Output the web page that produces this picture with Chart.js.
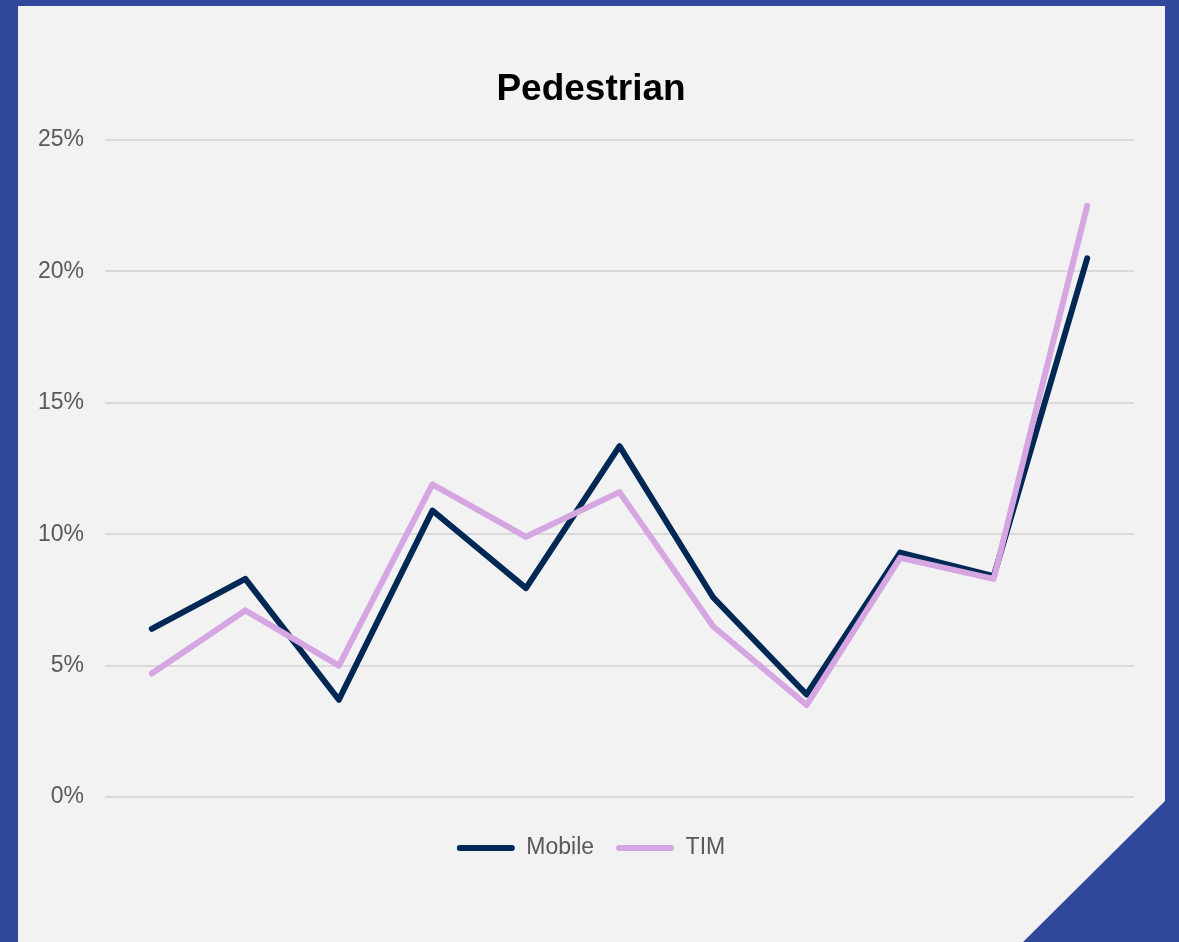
<!DOCTYPE html>
<html>
<head>
<meta charset="utf-8">
<title>Pedestrian</title>
<script src="https://cdn.jsdelivr.net/npm/chart.js@4/dist/chart.umd.min.js"></script>
<style>
    html, body { margin: 0; padding: 0; }
    body { width: 1179px; height: 942px; background: #30479c; position: relative; overflow: hidden; }
    #panel {
        position: absolute; left: 18px; top: 6px; width: 1147px; height: 936px;
        background: #f2f2f2;
        clip-path: polygon(0 0, 100% 0, 100% 795px, 1005px 100%, 0 100%);
    }
    #chart { position: absolute; left: 0; top: 0; }
</style>
</head>
<body>
<div id="panel"></div>
<canvas id="chart" width="1179" height="942"></canvas>
<script>
// Chart data
const categories = ['1', '2', '3', '4', '5', '6', '7', '8', '9', '10', '11'];
const mobileValues = [6.4, 8.3, 3.7, 10.9, 7.95, 13.35, 7.6, 3.9, 9.3, 8.4, 20.5];
const timValues = [4.7, 7.1, 5.0, 11.9, 9.9, 11.6, 6.5, 3.5, 9.1, 8.3, 22.5];
const yTicks = [0, 5, 10, 15, 20, 25];

Chart.defaults.font.family = '"Liberation Sans", Arial, sans-serif';
Chart.defaults.color = '#595959';

// Title and legend are centred on the panel, not on the canvas minus the axis
const centerBlocks = {
    id: 'centerBlocks',
    afterLayout(chart) {
        [chart.titleBlock, chart.legend].forEach(block => {
            if (!block) return;
            block.left = 48;
            block.width = block.right - block.left;
        });
    }
};

const ctx = document.getElementById('chart').getContext('2d');
new Chart(ctx, {
    type: 'line',
    data: {
        labels: categories,
        datasets: [
            {
                label: 'Mobile',
                data: mobileValues,
                borderColor: '#002855',
                backgroundColor: '#002855',
                borderWidth: 6,
                borderCapStyle: 'round',
                borderJoinStyle: 'round',
                pointRadius: 0,
                order: 1
            },
            {
                label: 'TIM',
                data: timValues,
                borderColor: '#d5a6e1',
                backgroundColor: '#d5a6e1',
                borderWidth: 6,
                borderCapStyle: 'round',
                borderJoinStyle: 'round',
                pointRadius: 0,
                order: 0
            }
        ]
    },
    plugins: [centerBlocks],
    options: {
        responsive: false,
        animation: false,
        devicePixelRatio: 1,
        layout: { padding: { left: 30, right: 45, top: 0, bottom: 72.5 } },
        plugins: {
            title: {
                display: true,
                text: 'Pedestrian',
                color: '#000000',
                font: { size: 37, weight: 'bold' },
                padding: { top: 68, bottom: 27.6 }
            },
            legend: {
                position: 'bottom',
                labels: {
                    boxWidth: 58,
                    boxHeight: 6,
                    padding: 22,
                    font: { size: 23 },
                    color: '#595959',
                    sort: (a, b) => a.datasetIndex - b.datasetIndex,
                    generateLabels: (chart) => {
                        const items = Chart.defaults.plugins.legend.labels.generateLabels(chart);
                        items.forEach(item => {
                            item.lineWidth = 0;
                            item.borderRadius = 3;
                        });
                        return items;
                    },
                    useBorderRadius: true,
                    borderRadius: 3
                }
            },
            tooltip: { enabled: false }
        },
        scales: {
            x: {
                offset: true,
                ticks: { display: false },
                grid: { display: false },
                border: { display: false },
                afterFit: (scale) => { scale.height = 17.5; }
            },
            y: {
                min: 0,
                max: 25,
                afterBuildTicks: (scale) => {
                    scale.ticks = yTicks.map(v => ({ value: v }));
                },
                ticks: {
                    padding: 21,
                    font: { size: 23 },
                    color: '#595959',
                    callback: (value) => value + '%'
                },
                grid: { color: '#d9d9d9', lineWidth: 2, drawTicks: false },
                border: { display: false },
                afterFit: (scale) => { scale.width = 75; }
            }
        }
    }
});
</script>
</body>
</html>
